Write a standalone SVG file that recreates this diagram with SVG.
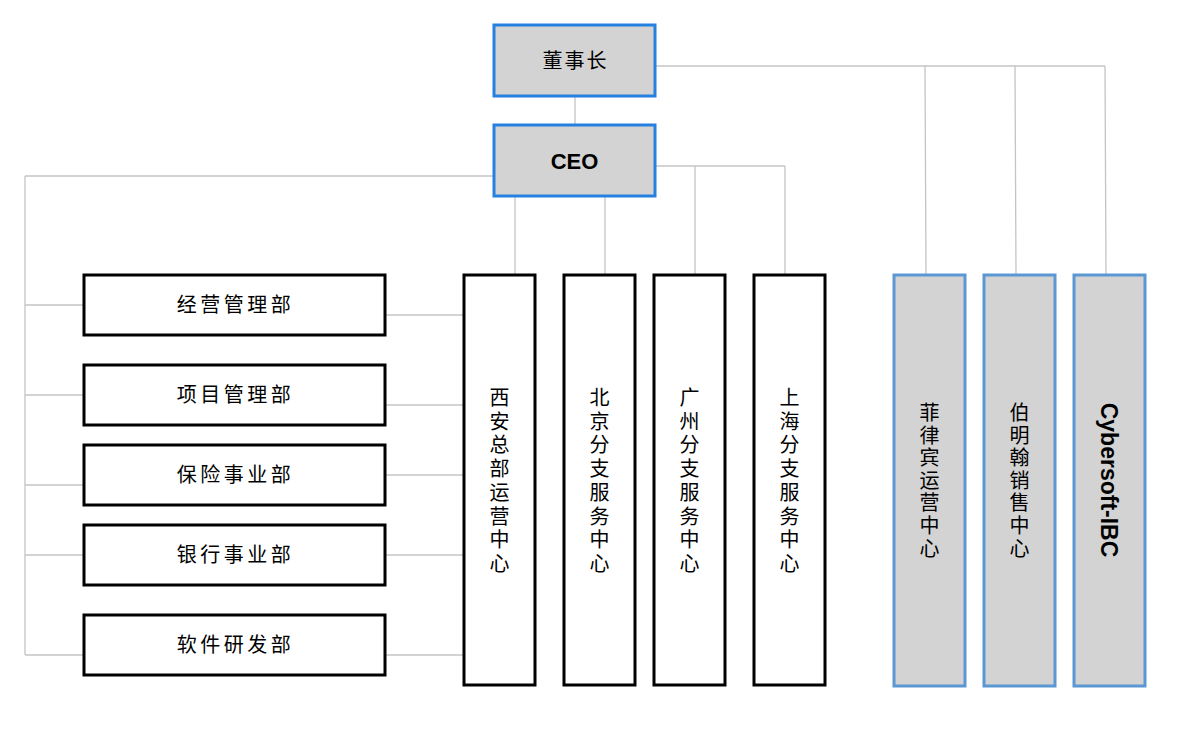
<svg xmlns="http://www.w3.org/2000/svg" width="1178" height="752" viewBox="0 0 1178 752">
<style>
.bg{fill:#ffffff}
.top{fill:#d3d3d3;stroke:#2680df;stroke-width:3}
.dept{fill:#ffffff;stroke:#000000;stroke-width:3}
.ovs{fill:#d3d3d3;stroke:#5b97d3;stroke-width:3}
.conn line{stroke:#c4c4c4;stroke-width:1.3;fill:none}
.cjk{font-family:"Noto Sans CJK SC","Noto Sans CJK JP",sans-serif;font-size:20px;fill:#000;text-anchor:middle}
.vc{font-family:"Liberation Sans","Noto Sans CJK SC","Noto Sans CJK JP",sans-serif;font-size:20px;fill:#000;text-anchor:middle}
.lat{font-family:"Liberation Sans",Arial,sans-serif;font-weight:bold;fill:#000;text-anchor:middle}
</style>
<rect class="bg" x="0" y="0" width="1178" height="752"/>
<g id="connectors" class="conn">
<line x1="575" y1="96" x2="575" y2="125"/>
<line x1="655" y1="66" x2="1105" y2="66"/>
<line x1="925" y1="66" x2="926" y2="275"/>
<line x1="1015" y1="66" x2="1016" y2="275"/>
<line x1="1105" y1="66" x2="1106" y2="275"/>
<line x1="655" y1="166" x2="785" y2="166"/>
<line x1="695" y1="166" x2="695" y2="275"/>
<line x1="785" y1="166" x2="785" y2="275"/>
<line x1="515" y1="196" x2="515" y2="275"/>
<line x1="605" y1="196" x2="605" y2="275"/>
<line x1="25" y1="176" x2="494" y2="176"/>
<line x1="25" y1="176" x2="25" y2="655"/>
<line x1="25" y1="305" x2="84" y2="305"/>
<line x1="25" y1="395" x2="84" y2="395"/>
<line x1="25" y1="485" x2="84" y2="485"/>
<line x1="25" y1="555" x2="84" y2="555"/>
<line x1="25" y1="655" x2="84" y2="655"/>
<line x1="385" y1="315" x2="464" y2="315"/>
<line x1="385" y1="405" x2="464" y2="405"/>
<line x1="385" y1="475" x2="464" y2="475"/>
<line x1="385" y1="555" x2="464" y2="555"/>
<line x1="385" y1="655" x2="464" y2="655"/>
</g>
<g id="chairman">
<rect class="top" x="494" y="25" width="161" height="71"/>
<text class="cjk" x="575.5" y="68" style="letter-spacing:2px">董事长</text>
</g>
<g id="ceo">
<rect class="top" x="494" y="125" width="161" height="71"/>
<text class="lat" x="574.5" y="169" font-size="22">CEO</text>
</g>
<g id="dept1">
<rect class="dept" x="84" y="275" width="301" height="60"/>
<text class="cjk" x="235.5" y="312" style="letter-spacing:3.5px">经营管理部</text>
</g>
<g id="dept2">
<rect class="dept" x="84" y="365" width="301" height="60"/>
<text class="cjk" x="235.5" y="402" style="letter-spacing:3.5px">项目管理部</text>
</g>
<g id="dept3">
<rect class="dept" x="84" y="445" width="301" height="60"/>
<text class="cjk" x="235.5" y="482" style="letter-spacing:3.5px">保险事业部</text>
</g>
<g id="dept4">
<rect class="dept" x="84" y="525" width="301" height="60"/>
<text class="cjk" x="235.5" y="562" style="letter-spacing:3.5px">银行事业部</text>
</g>
<g id="dept5">
<rect class="dept" x="84" y="615" width="301" height="60"/>
<text class="cjk" x="235.5" y="652" style="letter-spacing:3.5px">软件研发部</text>
</g>
<g id="xian">
<rect class="dept" x="464" y="275" width="71" height="410"/>
<text class="vc" x="499.5" y="405"><tspan x="499.5" dy="0">西</tspan><tspan x="499.5" dy="23.7">安</tspan><tspan x="499.5" dy="23.7">总</tspan><tspan x="499.5" dy="23.7">部</tspan><tspan x="499.5" dy="23.7">运</tspan><tspan x="499.5" dy="23.7">营</tspan><tspan x="499.5" dy="23.7">中</tspan><tspan x="499.5" dy="23.7">心</tspan></text>
</g>
<g id="beijing">
<rect class="dept" x="564" y="275" width="71" height="410"/>
<text class="vc" x="599.5" y="405"><tspan x="599.5" dy="0">北</tspan><tspan x="599.5" dy="23.7">京</tspan><tspan x="599.5" dy="23.7">分</tspan><tspan x="599.5" dy="23.7">支</tspan><tspan x="599.5" dy="23.7">服</tspan><tspan x="599.5" dy="23.7">务</tspan><tspan x="599.5" dy="23.7">中</tspan><tspan x="599.5" dy="23.7">心</tspan></text>
</g>
<g id="guangzhou">
<rect class="dept" x="654" y="275" width="71" height="410"/>
<text class="vc" x="689.5" y="405"><tspan x="689.5" dy="0">广</tspan><tspan x="689.5" dy="23.7">州</tspan><tspan x="689.5" dy="23.7">分</tspan><tspan x="689.5" dy="23.7">支</tspan><tspan x="689.5" dy="23.7">服</tspan><tspan x="689.5" dy="23.7">务</tspan><tspan x="689.5" dy="23.7">中</tspan><tspan x="689.5" dy="23.7">心</tspan></text>
</g>
<g id="shanghai">
<rect class="dept" x="754" y="275" width="71" height="410"/>
<text class="vc" x="789.5" y="405"><tspan x="789.5" dy="0">上</tspan><tspan x="789.5" dy="23.7">海</tspan><tspan x="789.5" dy="23.7">分</tspan><tspan x="789.5" dy="23.7">支</tspan><tspan x="789.5" dy="23.7">服</tspan><tspan x="789.5" dy="23.7">务</tspan><tspan x="789.5" dy="23.7">中</tspan><tspan x="789.5" dy="23.7">心</tspan></text>
</g>
<g id="philippines">
<rect class="ovs" x="894" y="275" width="71" height="411"/>
<text class="vc" x="929.5" y="420"><tspan x="929.5" dy="0">菲</tspan><tspan x="929.5" dy="22.6">律</tspan><tspan x="929.5" dy="22.6">宾</tspan><tspan x="929.5" dy="22.6">运</tspan><tspan x="929.5" dy="22.6">营</tspan><tspan x="929.5" dy="22.6">中</tspan><tspan x="929.5" dy="22.6">心</tspan></text>
</g>
<g id="birmingham">
<rect class="ovs" x="984" y="275" width="71" height="411"/>
<text class="vc" x="1019.5" y="420"><tspan x="1019.5" dy="0">伯</tspan><tspan x="1019.5" dy="22.6">明</tspan><tspan x="1019.5" dy="22.6">翰</tspan><tspan x="1019.5" dy="22.6">销</tspan><tspan x="1019.5" dy="22.6">售</tspan><tspan x="1019.5" dy="22.6">中</tspan><tspan x="1019.5" dy="22.6">心</tspan></text>
</g>
<g id="cybersoft">
<rect class="ovs" x="1074" y="275" width="71" height="411"/>
<text class="lat" font-size="23" transform="translate(1101,480) rotate(90)" x="0" y="0">Cybersoft-IBC</text>
</g>
</svg>
